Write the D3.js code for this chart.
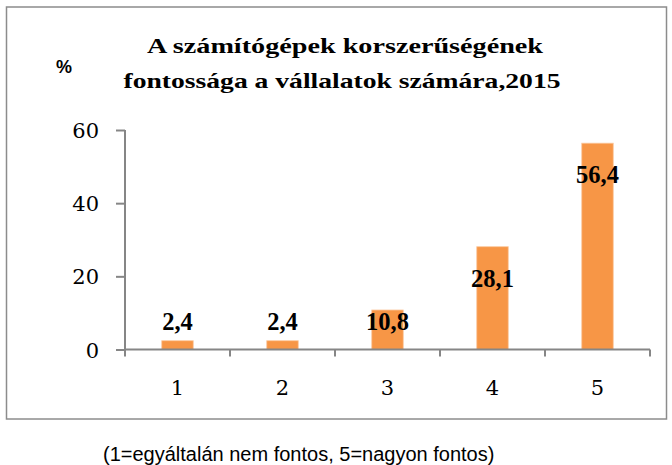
<!DOCTYPE html>
<html>
<head>
<meta charset="utf-8">
<script src="https://cdn.jsdelivr.net/npm/d3@7"></script>
<style>
  html, body { margin: 0; padding: 0; background: #fff; }
  svg { display: block; }
</style>
</head>
<body>
<svg id="chart" width="672" height="465"></svg>
<script>
const categories = ["1", "2", "3", "4", "5"];
const values = [2.4, 2.4, 10.8, 28.1, 56.4];
const valueLabels = ["2,4", "2,4", "10,8", "28,1", "56,4"];
const yTicks = [0, 20, 40, 60];
const titleLines = ["A számítógépek korszerűségének", "fontossága a vállalatok számára,2015"];
const unitLabel = "%";
const footnote = "(1=egyáltalán nem fontos, 5=nagyon fontos)";

(function () {
const svg = d3.select("#chart");
const serif = "'Liberation Serif', 'Times New Roman', serif";
const numSerif = "'DejaVu Serif', 'Liberation Serif', serif";
const sans = "'Liberation Sans', Arial, sans-serif";
const axisColor = "#868686";

// outer frame
svg.append("rect")
  .attr("x", 6.5).attr("y", 7).attr("width", 660).attr("height", 412)
  .attr("fill", "#fff").attr("stroke", "#8c8c8c").attr("stroke-width", 1.5);

const pLeft = 125, pRight = 650, pTop = 130, pBottom = 349.5;

const x = d3.scaleBand().domain(categories).range([pLeft, pRight])
  .paddingInner(0.7).paddingOuter(0.35);
const y = d3.scaleLinear().domain([0, 60]).range([pBottom, pTop]);

// title
const title = svg.append("text")
  .attr("text-anchor", "middle")
  .attr("font-family", serif).attr("font-weight", "bold")
  .attr("font-size", 22).attr("fill", "#000");
title.append("tspan").attr("x", 345).attr("y", 53).text(titleLines[0])
  .attr("textLength", 396).attr("lengthAdjust", "spacingAndGlyphs");
title.append("tspan").attr("x", 342).attr("y", 88).text(titleLines[1])
  .attr("textLength", 437).attr("lengthAdjust", "spacingAndGlyphs");

// unit label
svg.append("text")
  .attr("x", 64).attr("y", 72.5).attr("text-anchor", "middle")
  .attr("font-family", sans).attr("font-weight", "bold").attr("font-size", 18)
  .text(unitLabel);

// y axis
const yAxis = svg.append("g").attr("transform", `translate(${pLeft},0)`)
  .call(d3.axisLeft(y).tickValues(yTicks).tickSize(9).tickPadding(17).tickFormat(d3.format("d")));
yAxis.select(".domain").attr("stroke", axisColor).attr("stroke-width", 2)
  .attr("d", `M0,${pTop}V${pBottom}`);
yAxis.selectAll(".tick line").attr("stroke", axisColor).attr("stroke-width", 2);
yAxis.selectAll(".tick text").attr("font-family", numSerif).attr("font-size", 21)
  .attr("fill", "#000").attr("dy", "0.36em");

// bars
svg.append("g").selectAll("rect").data(values).join("rect")
  .attr("x", (d, i) => x(categories[i]))
  .attr("y", d => y(d))
  .attr("width", x.bandwidth())
  .attr("height", d => y(0) - y(d))
  .attr("fill", "#F79646")
  .attr("stroke", "#fbc9a0").attr("stroke-width", 0.8);

// x axis
const boundary = d3.scaleLinear().domain([0, categories.length]).range([pLeft, pRight]);
const xg = svg.append("g");
xg.append("line").attr("x1", pLeft).attr("x2", pRight).attr("y1", y(0)).attr("y2", y(0))
  .attr("stroke", axisColor).attr("stroke-width", 2);
xg.selectAll("line.tk").data(d3.range(categories.length + 1)).join("line")
  .attr("class", "tk")
  .attr("x1", d => boundary(d)).attr("x2", d => boundary(d))
  .attr("y1", y(0)).attr("y2", y(0) + 7)
  .attr("stroke", axisColor).attr("stroke-width", 2);
xg.selectAll("text").data(categories).join("text")
  .attr("x", d => x(d) + x.bandwidth() / 2)
  .attr("y", y(0) + 45.5)
  .attr("text-anchor", "middle")
  .attr("font-family", numSerif).attr("font-size", 21)
  .text(d => d);

// data labels
svg.append("g").selectAll("text").data(values).join("text")
  .attr("x", (d, i) => x(categories[i]) + x.bandwidth() / 2)
  .attr("y", d => Math.min(y(d) + 40, y(0) - 19.5))
  .attr("text-anchor", "middle")
  .attr("font-family", serif).attr("font-weight", "bold").attr("font-size", 24.5)
  .text((d, i) => valueLabels[i]);

// footnote
svg.append("text")
  .attr("x", 103).attr("y", 461)
  .attr("font-family", sans).attr("font-size", 20)
  .attr("fill", "#000")
  .text(footnote);
})();
</script>
</body>
</html>
